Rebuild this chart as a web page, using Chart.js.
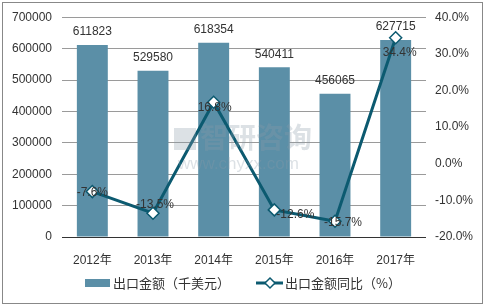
<!DOCTYPE html>
<html>
<head>
<meta charset="utf-8">
<script src="https://cdn.jsdelivr.net/npm/chart.js@4/dist/chart.umd.min.js"></script>
<style>
  html, body { margin: 0; padding: 0; background: #fff; }
  #wrap { width: 485px; height: 307px; position: relative; }
</style>
</head>
<body>
<div id="wrap"><canvas id="chart" width="485" height="307"></canvas></div>
<script>
// data
const years = ['2012年', '2013年', '2014年', '2015年', '2016年', '2017年'];
const exportValue = [611823, 529580, 618354, 540411, 456065, 627715];
const exportGrowth = [-7.6, -13.5, 16.8, -12.6, -15.7, 34.4];
const barName = '出口金额（千美元）';
const lineName = '出口金额同比（%）';

const FONT = "'Liberation Sans', Arial, 'Noto Sans CJK SC', sans-serif";
const BAR_COLOR = '#5b8fa7';
const LINE_COLOR = '#0c5a70';
const TEXT_COLOR = '#333333';

// label nudges for the growth labels (dx, dy)
const growthNudge = [[0, 1], [2, -9], [1, 5], [21, 5], [8, 1], [4, 15]];

const extras = {
    id: 'extras',
    afterDraw(chart) {
        const ctx = chart.ctx;
        ctx.save();
        // watermark
        ctx.globalAlpha = 0.3;
        ctx.fillStyle = '#8a9aa8';
        ctx.font = 'bold 28px ' + FONT;
        ctx.textAlign = 'left';
        ctx.textBaseline = 'middle';
        ctx.fillText('智研咨询', 200, 140);
        ctx.fillRect(174, 128, 22, 22);
        ctx.font = '17px ' + FONT;
        ctx.fillText('www.chyxx.com', 178, 164);
        ctx.globalAlpha = 1;

        ctx.font = '12px ' + FONT;
        ctx.fillStyle = TEXT_COLOR;
        ctx.textAlign = 'center';
        ctx.textBaseline = 'middle';
        chart.getDatasetMeta(1).data.forEach((bar, i) => {
            ctx.fillText(exportValue[i], bar.x, bar.y - 13);
        });
        chart.getDatasetMeta(0).data.forEach((pt, i) => {
            const n = growthNudge[i];
            ctx.fillText(exportGrowth[i].toFixed(1) + '%', pt.x + n[0], pt.y + n[1]);
        });

        // legend
        const ly = 283;
        ctx.font = "13px 'Noto Sans CJK SC', " + FONT;
        ctx.fillStyle = BAR_COLOR;
        ctx.fillRect(85, ly - 4, 25, 8);
        ctx.fillStyle = TEXT_COLOR;
        ctx.textAlign = 'left';
        ctx.fillText(barName, 113, ly);
        ctx.strokeStyle = LINE_COLOR;
        ctx.lineWidth = 3;
        ctx.beginPath();
        ctx.moveTo(256, ly);
        ctx.lineTo(283, ly);
        ctx.stroke();
        ctx.fillStyle = '#fff';
        ctx.lineWidth = 1.5;
        ctx.beginPath();
        ctx.moveTo(270, ly - 5);
        ctx.lineTo(275, ly);
        ctx.lineTo(270, ly + 5);
        ctx.lineTo(265, ly);
        ctx.closePath();
        ctx.fill();
        ctx.stroke();
        ctx.fillStyle = TEXT_COLOR;
        ctx.fillText(lineName, 285, ly);

        // outer frame
        ctx.strokeStyle = '#888';
        ctx.lineWidth = 1;
        ctx.strokeRect(2.5, 2.5, 480, 301);
        ctx.restore();
    }
};

new Chart(document.getElementById('chart').getContext('2d'), {
    data: {
        labels: years,
        datasets: [
            {
                type: 'line',
                label: lineName,
                data: exportGrowth,
                yAxisID: 'y2',
                borderColor: LINE_COLOR,
                borderWidth: 3,
                pointStyle: 'rectRot',
                pointRadius: 6,
                pointBackgroundColor: '#fff',
                pointBorderColor: LINE_COLOR,
                pointBorderWidth: 1.5,
                tension: 0,
                order: 0
            },
            {
                type: 'bar',
                label: barName,
                data: exportValue,
                yAxisID: 'y',
                backgroundColor: BAR_COLOR,
                barPercentage: 0.51,
                categoryPercentage: 1,
                order: 1
            }
        ]
    },
    options: {
        responsive: false,
        animation: false,
        layout: { padding: { top: 17, bottom: 40, left: 0, right: 0 } },
        plugins: {
            legend: { display: false },
            tooltip: { enabled: false }
        },
        scales: {
            x: {
                grid: { display: false },
                border: { display: false },
                ticks: { color: TEXT_COLOR, font: { family: FONT, size: 12 }, padding: 8 },
                afterFit: s => { s.height = 30; }
            },
            y: {
                position: 'left',
                min: 0,
                max: 700000,
                ticks: {
                    stepSize: 100000,
                    color: TEXT_COLOR,
                    font: { family: FONT, size: 12 },
                    padding: 10,
                    callback: v => String(v)
                },
                grid: {
                    drawTicks: false,
                    color: ctx => ctx.tick && ctx.tick.value === 0 ? '#333' : '#9a9a9a'
                },
                border: { display: false },
                afterFit: s => { s.width = 62; }
            },
            y2: {
                position: 'right',
                min: -20,
                max: 40,
                ticks: {
                    stepSize: 10,
                    color: TEXT_COLOR,
                    font: { family: FONT, size: 12 },
                    padding: 9,
                    callback: v => v.toFixed(1) + '%'
                },
                grid: { display: false, drawTicks: false },
                border: { display: false },
                afterFit: s => { s.width = 59; }
            }
        }
    },
    plugins: [extras]
});
</script>
</body>
</html>
